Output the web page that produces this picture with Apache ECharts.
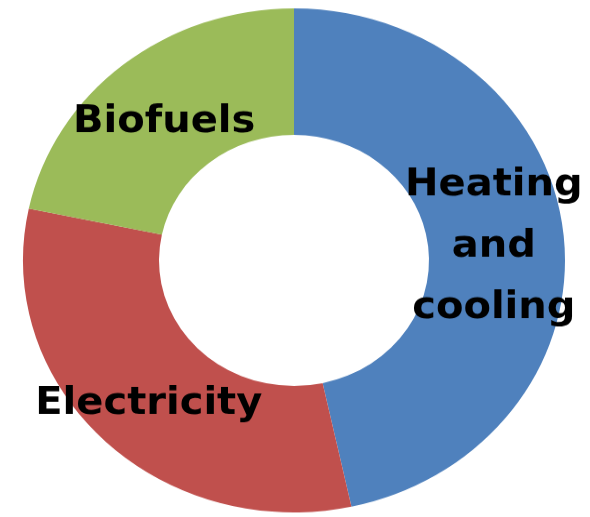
<!DOCTYPE html>
<html>
<head>
<meta charset="utf-8">
<script src="https://cdn.jsdelivr.net/npm/echarts@6/dist/echarts.min.js"></script>
<style>
html,body{margin:0;padding:0;background:#fff;overflow:hidden;}
#wrap{width:590px;height:517px;overflow:hidden;position:relative;}
#chart{width:590px;height:556px;transform:scaleY(0.93);transform-origin:0 0;}
</style>
</head>
<body>
<div id="wrap"><div id="chart"></div></div>
<script>
const categories = ['Heating\nand\ncooling', 'Electricity', 'Biofuels'];
const values = [46.6, 31.7, 21.7];
const colors = ['#4F81BD', '#C0504D', '#9BBB59'];
const labelOffsets = [[-5, 8], [0, 8], [0, 12]];

const chart = echarts.init(document.getElementById('chart'), null, {renderer: 'canvas'});
chart.setOption({
  animation: false,
  backgroundColor: '#ffffff',
  series: [{
    type: 'pie',
    center: [294, 280],
    radius: [135, 271],
    startAngle: 90,
    clockwise: true,
    silent: true,
    avoidLabelOverlap: false,
    itemStyle: {borderWidth: 0},
    label: {
      show: true,
      position: 'inside',
      formatter: '{b}',
      color: '#000',
      fontFamily: 'DejaVu Sans',
      fontWeight: 'bold',
      fontSize: 40,
      lineHeight: 66,
      align: 'center'
    },
    labelLine: {show: false},
    data: categories.map((c, i) => ({
      name: c,
      value: values[i],
      itemStyle: {color: colors[i]},
      label: {offset: labelOffsets[i]}
    }))
  }]
});
</script>
</body>
</html>
